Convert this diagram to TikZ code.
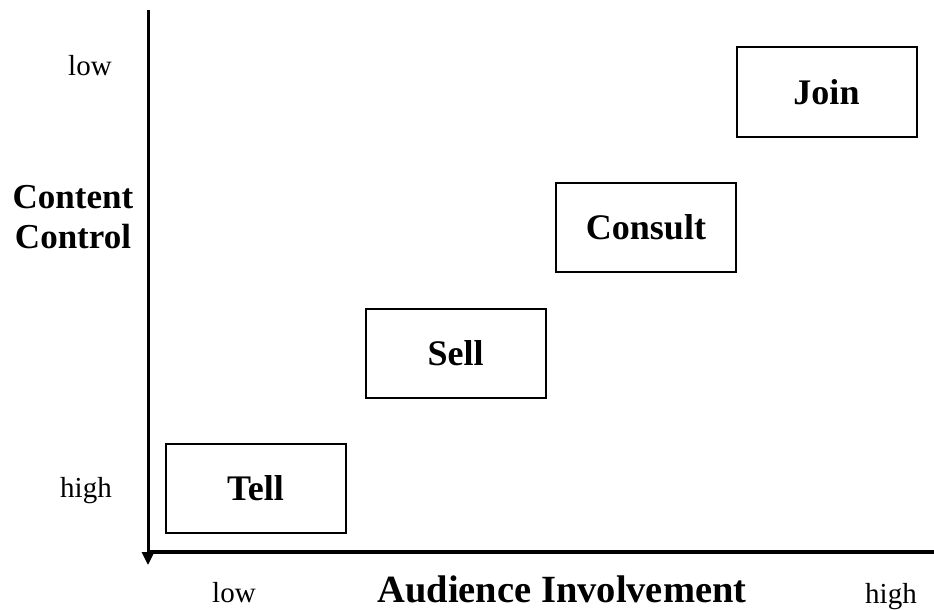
\documentclass[tikz,border=0pt]{standalone}
\usepackage{fontspec}
\setmainfont{Liberation Serif}
\usetikzlibrary{arrows.meta}
\begin{document}
\begin{tikzpicture}[x=1pt,y=-1pt,
  stage/.style={draw=black,line width=2pt,minimum width=180pt,minimum height=89pt,
    inner sep=0pt,font=\fontsize{36}{40}\selectfont\bfseries},
  scale label/.style={font=\fontsize{29}{32}\selectfont,inner sep=0pt,anchor=base west},
  axis label/.style={font=\fontsize{35}{40}\selectfont\bfseries,inner sep=0pt,align=center}]
\useasboundingbox (0,0) rectangle (934,610);
% axes
\coordinate (vtop) at (148,10);
\coordinate (vbot) at (148,565);
\coordinate (hleft) at (147,552);
\coordinate (hright) at (934,552);
\draw[line width=3pt,-{Triangle[width=12pt,length=13pt]}] (vtop) -- (vbot);
\draw[line width=4pt] (hleft) -- (hright);
% stages
\node[stage] (tell) at (255.5,488.5) {\raisebox{-2pt}{Tell}};
\node[stage] (sell) at (455.5,353) {\raisebox{-2pt}{Sell}};
\node[stage] (consult) at (646,227.5) {\raisebox{-2pt}{Consult}};
\node[stage] (join) at (826.5,92) {\raisebox{-2pt}{Join}};
% axis labels
\node[scale label] (ylow) at (68,75) {low};
\node[scale label] (yhigh) at (60,497) {high};
\node[scale label] (xlow) at (212,602) {low};
\node[scale label] (xhigh) at (865,603) {high};
\node[axis label,anchor=base] (ytitle1) at (73,208) {Content};
\node[axis label,anchor=base] (ytitle2) at (73,248) {Control};
\node[axis label,anchor=base,font=\fontsize{38.5}{42}\selectfont\bfseries] (xtitle) at (562,602) {Audience Involvement};
\end{tikzpicture}
\end{document}
